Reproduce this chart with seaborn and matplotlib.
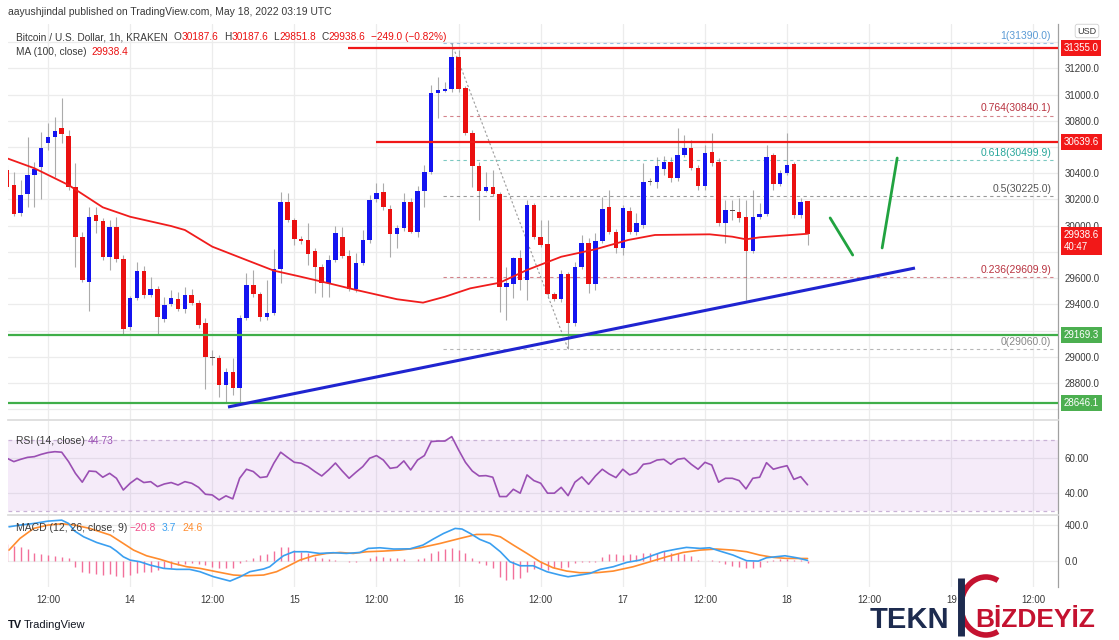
import numpy as np
import pandas as pd
import matplotlib
matplotlib.use("Agg")
import matplotlib.pyplot as plt
from matplotlib.patches import Arc
import seaborn as sns

# ---------------- data ----------------
first_candle = "2022-05-13 06:00"
day_zero = "2022-05-13 00:00"

opens = [30425, 30310, 30094, 30239, 30386, 30450, 30633, 30679, 30743, 30686,
         30293, 29911, 29573, 30081, 30036, 29759, 29988, 29746, 29230, 29446,
         29657, 29471, 29517, 29286, 29401, 29441, 29364, 29471, 29408, 29260,
         28993, 28993, 28785, 28886, 28764, 29294, 29548, 29479, 29301, 29337,
         29667, 30183, 30043, 29898, 29891, 29807, 29683, 29565, 29738, 29916,
         29771, 29517, 29718, 29891, 30204, 30257, 30127, 29934, 29980, 30178,
         29954, 30267, 30412, 31009, 31030, 31043, 31289, 31048, 30709, 30455,
         30267, 30297, 30242, 29530, 29555, 29756, 29586, 30155, 29916, 29860,
         29477, 29441, 29629, 29260, 29687, 29870, 29555, 29885, 30140, 29954,
         29828, 30114, 29954, 30005, 30335, 30335, 30430, 30488, 30361, 30539,
         30595, 30442, 30303, 30564, 30488, 30018, 30120, 30107, 30064, 29809,
         30064, 30089, 30539, 30318, 30404, 30470, 30081, 30187.6]
closes = [30297, 30087, 30234, 30386, 30432, 30595, 30674, 30724, 30697, 30293,
          29911, 29586, 30068, 30038, 29759, 29988, 29746, 29210, 29446, 29657,
          29471, 29517, 29306, 29395, 29446, 29364, 29471, 29408, 29243, 28996,
          28988, 28785, 28886, 28764, 29294, 29548, 29479, 29301, 29337, 29667,
          30178, 30043, 29896, 29885, 29784, 29683, 29565, 29738, 29942, 29771,
          29517, 29718, 29891, 30196, 30252, 30140, 29934, 29980, 30178, 29954,
          30267, 30412, 31009, 31035, 31043, 31289, 31043, 30709, 30455, 30267,
          30297, 30242, 29535, 29561, 29756, 29586, 30155, 29916, 29853, 29477,
          29441, 29629, 29260, 29687, 29870, 29555, 29885, 30125, 29954, 29828,
          30133, 29954, 30018, 30335, 30340, 30457, 30488, 30361, 30539, 30595,
          30442, 30303, 30552, 30476, 30018, 30120, 30114, 30056, 29809, 30064,
          30089, 30526, 30318, 30404, 30463, 30081, 30183, 29938.6]
highs = [30463, 30412, 30348, 30679, 30488, 30717, 30781, 30831, 30974, 30730,
         30476, 29952, 30145, 30145, 30058, 30043, 30068, 29776, 29464, 29725,
         29692, 29611, 29540, 29456, 29510, 29497, 29535, 29517, 29433, 29296,
         29052, 29014, 28915, 28989, 29319, 29637, 29662, 29494, 29586, 29820,
         30259, 30249, 30058, 29921, 30020, 29830, 29708, 29776, 29998, 29992,
         29815, 29792, 29967, 30234, 30328, 30328, 30158, 30005, 30249, 30211,
         30303, 30463, 31073, 31136, 31098, 31390, 31340, 31065, 30730, 30486,
         30412, 30425, 30257, 29687, 29763, 29815, 30196, 30173, 30043, 30043,
         29494, 29662, 29647, 29723, 29929, 29906, 29942, 30221, 30272, 29975,
         30158, 30143, 30097, 30476, 30364, 30524, 30532, 30524, 30743, 30692,
         30653, 30463, 30615, 30704, 30516, 30196, 30196, 30211, 30196, 30272,
         30173, 30615, 30557, 30425, 30707, 30486, 30211, 30187.6]
lows = [30272, 30074, 30074, 30140, 30145, 30201, 30577, 30374, 30631, 30272,
        29687, 29571, 29352, 29944, 29738, 29662, 29723, 29166, 29205, 29433,
        29448, 29456, 29166, 29266, 29388, 29349, 29334, 29395, 29220, 28752,
        28938, 28696, 28646, 28709, 28646, 29281, 29456, 29275, 29281, 29319,
        29563, 30028, 29853, 29860, 29700, 29484, 29458, 29458, 29723, 29754,
        29502, 29494, 29700, 29868, 30181, 30120, 29763, 29827, 29959, 29942,
        29916, 30145, 30394, 30819, 31020, 31020, 31020, 30692, 30297, 30043,
        30257, 30226, 29344, 29281, 29446, 29510, 29433, 29898, 29837, 29456,
        29426, 29418, 29060, 29235, 29670, 29484, 29510, 29868, 29937, 29789,
        29776, 29937, 29929, 29982, 30310, 30287, 30386, 30333, 30341, 30524,
        30425, 30272, 30272, 30455, 29998, 29866, 30043, 30028, 29433, 29792,
        30051, 30074, 30272, 30303, 30386, 30058, 30058, 29851.8]

# MA(100) read at hours since 13 May 00:00
ma_hours = [6, 10, 15, 20, 24, 30, 32, 36, 41, 45, 48.5, 53, 57, 63, 66.8, 70,
            73.7, 78, 82, 87, 92, 96.8, 100.7, 108.7, 112, 114, 116, 123]
ma_values = [30514, 30438, 30310, 30140, 30068, 29997, 29967, 29840, 29738,
             29657, 29616, 29561, 29510, 29439, 29413, 29458, 29522, 29565,
             29662, 29763, 29820, 29891, 29929, 29934, 29916, 29896, 29911, 29938.4]

# RSI(14), one value per candle
rsi_values = [59.7, 57.8, 59.1, 60.2, 60.6, 61.9, 62.9, 63.4, 63.1, 57.8,
              51.2, 46.2, 52.5, 52.2, 49.0, 51.2, 48.4, 41.8, 45.6, 48.4,
              46.0, 46.5, 43.7, 45.2, 46.0, 44.6, 46.5, 45.6, 43.3, 39.4,
              39.0, 36.2, 38.5, 36.8, 48.4, 53.5, 52.2, 48.8, 49.3, 56.9,
              63.1, 60.2, 57.4, 56.9, 55.0, 52.2, 49.7, 53.1, 57.0, 52.5,
              48.4, 51.8, 55.0, 59.7, 61.2, 58.7, 54.0, 54.6, 58.2, 53.1,
              58.7, 61.2, 69.1, 69.4, 69.4, 71.9, 64.4, 57.4, 52.5, 49.7,
              49.9, 49.0, 38.1, 38.1, 42.2, 40.0, 50.3, 47.1, 45.6, 40.0,
              40.0, 43.3, 38.6, 46.2, 49.2, 45.0, 49.7, 53.5, 50.8, 48.8,
              53.5, 50.3, 51.6, 56.3, 56.9, 58.7, 59.1, 56.3, 59.1, 59.7,
              56.3, 53.5, 57.4, 55.9, 46.2, 48.4, 48.4, 47.1, 42.4, 48.4,
              49.0, 57.2, 53.5, 54.6, 55.5, 47.8, 49.3, 44.73]

# MACD (12, 26, 9)
macd_hours = [6.3, 7.9, 9.9, 12, 14, 15, 15.9, 17.2, 19.1, 21.1,
              22, 23, 24, 25.4, 26.9, 28.9, 30.8, 32.7, 34.2, 36.2,
              38.6, 40.1, 41.5, 43.5, 44.4, 45.4, 46.4, 47.9, 49.8, 51.7,
              53.7, 55.6, 57.6, 58.8, 60.5, 62.5, 64.9, 66.8, 68.3, 69.8,
              71.5, 72.5, 73.7, 75.1, 76.6, 78.1, 79.5, 81, 82.9, 84.9,
              86.8, 88, 89.7, 91.2, 92.7, 94.6, 96.6, 98.5, 100.5, 101.9,
              103.9, 105.3, 107.3, 108.7, 110.2, 112.1, 114.1, 115.8, 117, 119.7,
              121.4, 123]
macd_values = [377, 396, 414, 440, 451, 414, 329, 266, 203, 155,
               107, 44, 7, -11, -48, -85, -96, -96, -122, -178,
               -226, -178, -122, -92, -67, -4, 55, 100, 100, 81,
               89, 81, 92, 137, 144, 130, 132, 174, 241, 303,
               359, 352, 303, 237, 192, 100, -11, -56, -56, -122,
               -159, -178, -159, -141, -96, -67, -18, 7, 63, 100,
               130, 148, 137, 144, 107, 63, 0, -4, 33, 55,
               33, 3.7]
signal_hours = [6.3, 7.9, 9.9, 12, 14, 15.9, 18.1, 21.1, 23, 24.5,
                26.4, 28.4, 30.3, 32.3, 34.2, 36.6, 39.1, 41, 43.5, 45.4,
                46.9, 48.8, 50.8, 52.7, 54.7, 56.6, 58.6, 61, 63.4, 66.4,
                69.3, 72.2, 74.6, 76.6, 78.1, 80, 82, 83.9, 85.8, 87.8,
                89.7, 92.2, 94.6, 97.5, 100, 102.4, 104.8, 107.3, 109.7, 112.1,
                114.1, 116, 118, 119.9, 123]
signal_values = [118, 248, 359, 396, 411, 396, 359, 285, 192, 118,
                 55, 15, -30, -67, -85, -122, -159, -167, -159, -122,
                 -67, 7, 55, 81, 92, 81, 100, 107, 118, 144,
                 192, 248, 292, 292, 266, 174, 81, -11, -78, -115,
                 -133, -133, -115, -67, -11, 44, 92, 118, 130, 118,
                 100, 63, 37, 26, 24.6]
hist_values = [185, 167, 148, 126, 89, 70, 63, 56, 44, 26,
               -67, -122, -141, -152, -159, -152, -167, -178, -159, -141,
               -122, -122, -104, -85, -85, -48, -41, -30, -41, -48,
               -67, -78, -78, -78, -30, 7, 33, 63, 70, 107,
               155, 155, 118, 100, 81, 44, 26, 18, 7, 0,
               -11, -11, 0, 33, 52, 44, 26, 26, 18, 0,
               15, 26, 81, 107, 130, 144, 118, 81, 26, -30,
               -48, -78, -178, -215, -204, -196, -122, -96, -85, -104,
               -85, -85, -67, -30, -11, -11, -11, 44, 70, 70,
               63, 70, 63, 81, 89, 89, 107, 89, 89, 70,
               55, 7, 0, 7, -11, -41, -56, -67, -85, -78,
               -67, -11, 7, 18, 15, 7, 7, -20.8]

# drawn levels
resistance_levels = [31355.0, 30639.6]
resistance_start = [55.8, 59.9]
support_levels = [29169.3, 28646.1]
fib_ratios = ["1", "0.764", "0.618", "0.5", "0.236", "0"]
fib_prices = [31390.0, 30840.1, 30499.9, 30225.0, 29609.9, 29060.0]
fib_colors = ["#5b9bd5", "#b8323f", "#26a69a", "#555555", "#b8323f", "#888888"]
fib_start = 69.7
swing_hours = [71, 88]
swing_prices = [31390.0, 29060.0]
trend_hours = [38.3, 138.7]
trend_prices = [28617, 29677]
down_leg_hours = [126.3, 129.6]
down_leg_prices = [30059, 29776]
up_leg_hours = [133.9, 136.1]
up_leg_prices = [29830, 30516]

tick_hours = [12, 24, 36, 48, 60, 72, 84, 96, 108, 120, 132, 144, 156]
tick_labels = ["12:00", "14", "12:00", "15", "12:00", "16", "12:00", "17",
               "12:00", "18", "12:00", "19", "12:00"]
price_ticks = list(range(28600, 31401, 200))
hidden_price_labels = [31400, 30600, 29800, 29200, 28600]  # under the price tags

# ---------------- figure ----------------
sns.set_theme(style="white")
plt.rcParams["font.family"] = ["Liberation Sans", "DejaVu Sans"]

W, H = 1119, 640
fig = plt.figure(figsize=(W / 100, H / 100), dpi=100)
fig.patch.set_facecolor("white")


def px_rect(x0, y0, x1, y1):
    return [x0 / W, 1 - y1 / H, (x1 - x0) / W, (y1 - y0) / H]


ax = fig.add_axes(px_rect(8, 24, 1058, 420))
ax_rsi = fig.add_axes(px_rect(8, 421, 1058, 515))
ax_macd = fig.add_axes(px_rect(8, 516, 1058, 587))

times = pd.date_range(first_candle, periods=len(opens), freq="h")
x = ((times - pd.Timestamp(day_zero)) / pd.Timedelta(hours=1)).to_numpy()
df = pd.DataFrame({"x": x, "open": opens, "high": highs, "low": lows,
                   "close": closes, "rsi": rsi_values, "histogram": hist_values})

UP, DOWN, DOJI = "#1414f0", "#ea1010", "#5a4a48"
GRID = "#ececec"
TXT = "#3a3a3a"

for a in (ax, ax_rsi, ax_macd):
    a.set_xlim(6.15, 159.6)
    a.set_xticks(tick_hours)
    a.grid(True, color=GRID, lw=0.9)
    a.set_axisbelow(True)
    for s in ("left", "top"):
        a.spines[s].set_visible(False)
    a.spines["right"].set_color("#a0a0a0")
    a.spines["right"].set_linewidth(0.9)
    a.spines["bottom"].set_color("#dcdcdc")
    a.yaxis.tick_right()
    a.tick_params(axis="both", length=0, labelsize=7, labelcolor=TXT)
    a.tick_params(axis="y", pad=5)
ax.tick_params(labelbottom=False)
ax_rsi.tick_params(labelbottom=False)
ax_macd.set_xticklabels(tick_labels)
ax_macd.tick_params(axis="x", pad=6)
ax_macd.spines["bottom"].set_visible(False)

# ---- main price panel ----
ax.set_ylim(28518, 31538)
ax.set_yticks(price_ticks)
ax.set_yticklabels(["" if v in hidden_price_labels else f"{v:.1f}" for v in price_ticks])

colors = np.where(np.abs(df["close"] - df["open"]) < 8, DOJI,
                  np.where(df["close"] >= df["open"], UP, DOWN))
ax.vlines(df["x"], df["low"], df["high"], color="#ababab", lw=0.8, zorder=2)
body_low = np.minimum(df["open"], df["close"])
body_h = np.maximum(np.abs(df["close"] - df["open"]), 7)
ax.bar(df["x"], body_h, bottom=body_low, width=0.66, color=colors, lw=0, zorder=3)

sns.lineplot(x=ma_hours, y=ma_values, ax=ax, color="#f01c1c", lw=1.3, zorder=4)

# support / resistance
for lvl, start in zip(resistance_levels, resistance_start):
    ax.hlines(lvl, start, 159.6, color="#f01818", lw=1.6, zorder=5)
for lvl in support_levels:
    ax.axhline(lvl, color="#3fae49", lw=1.6, zorder=5)

# fibonacci retracement
for r, p, c in zip(fib_ratios, fib_prices, fib_colors):
    ax.hlines(p, fib_start, 159.0, color=c, lw=0.8, ls=(0, (3, 3)), alpha=0.6, zorder=2)
    ax.annotate(f"{r}({p:.1f})", xy=(158.6, p), xytext=(0, 1.5),
                textcoords="offset points", ha="right", va="bottom",
                fontsize=7.5, color=c, zorder=6)
ax.plot(swing_hours, swing_prices, color="#9a9a9a", lw=0.8, ls=(0, (2, 2)), zorder=2)

# trend line and projection legs
ax.plot(trend_hours, trend_prices, color="#1f24d0", lw=2.2, zorder=6,
        solid_capstyle="butt")
ax.plot(down_leg_hours, down_leg_prices, color="#21a340", lw=2.0, zorder=6)
ax.plot(up_leg_hours, up_leg_prices, color="#21a340", lw=2.0, zorder=6)


def price_tag(a, value, text, color, dy=0):
    a.annotate(text, xy=(1, value), xycoords=("axes fraction", "data"),
               xytext=(4, dy), textcoords="offset points", ha="left",
               va="center", fontsize=7, color="white", linespacing=1.25,
               bbox=dict(boxstyle="square,pad=0.3", fc=color, ec="none"),
               annotation_clip=False, zorder=20)


for lvl in resistance_levels:
    price_tag(ax, lvl, f"{lvl:.1f}", "#f21818")
for lvl in support_levels:
    price_tag(ax, lvl, f"{lvl:.1f}", "#4caf50")
price_tag(ax, closes[-1], f"{closes[-1]:.1f}\n40:47", "#f21818", dy=-5)

# ---- RSI panel ----
ax_rsi.set_ylim(27.7, 80.7)
ax_rsi.set_yticks([40, 60])
ax_rsi.set_yticklabels(["40.00", "60.00"])
ax_rsi.axhspan(30, 70, color="#b36ad8", alpha=0.13, lw=0, zorder=1)
for lvl in (30, 70):
    ax_rsi.axhline(lvl, color="#c9b3d6", lw=0.9, ls=(0, (3, 3)), zorder=1)
sns.lineplot(data=df, x="x", y="rsi", ax=ax_rsi, color="#9a4fb3", lw=1.2, zorder=4)

# ---- MACD panel ----
ax_macd.set_ylim(-292, 497)
ax_macd.set_yticks([0, 400])
ax_macd.set_yticklabels(["0.0", "400.0"])
ax_macd.vlines(df["x"], 0, df["histogram"], color="#f2709a", lw=1.0, zorder=2)
sns.lineplot(x=signal_hours, y=signal_values, ax=ax_macd, color="#ff8c2e", lw=1.2, zorder=4)
sns.lineplot(x=macd_hours, y=macd_values, ax=ax_macd, color="#3a9ff0", lw=1.2, zorder=5)

for a in (ax, ax_rsi, ax_macd):
    a.set_xlabel("")
    a.set_ylabel("")

# ---------------- overlay texts ----------------
ov = fig.add_axes([0, 0, 1, 1], zorder=10)
ov.set_xlim(0, W)
ov.set_ylim(H, 0)
ov.axis("off")

ov.text(8, 12, "aayushjindal published on TradingView.com, May 18, 2022 03:19 UTC",
        fontsize=7.5, color=TXT, va="center")
ov.text(16, 37, "Bitcoin / U.S. Dollar, 1h, KRAKEN", fontsize=7.3, color=TXT, va="center")
header_parts = [("O", 174, TXT), ("30187.6", 182, DOWN), ("H", 224, TXT),
                ("30187.6", 232, DOWN), ("L", 273, TXT), ("29851.8", 279, DOWN),
                ("C", 321, TXT), ("29938.6", 328, DOWN),
                ("\u2212249.0 (\u22120.82%)", 371, DOWN)]
for txt, px, col in header_parts:
    ov.text(px, 37, txt, fontsize=7.3, color=col, va="center")
ov.text(16, 52, "MA (100, close)", fontsize=7.3, color=TXT, va="center")
ov.text(91, 52, "29938.4", fontsize=7.3, color=DOWN, va="center")

ov.text(16, 441, "RSI (14, close)", fontsize=7.5, color=TXT, va="center")
ov.text(88, 441, "44.73", fontsize=7.5, color="#9a4fb3", va="center")
ov.text(16, 528, "MACD (12, 26, close, 9)", fontsize=7.5, color=TXT, va="center")
ov.text(129, 528, "\u221220.8", fontsize=7.5, color="#f0508a", va="center")
ov.text(162, 528, "3.7", fontsize=7.5, color="#3a9ff0", va="center")
ov.text(182, 528, "24.6", fontsize=7.5, color="#ff8c2e", va="center")

ov.text(1087, 31, "USD", fontsize=6.5, color=TXT, ha="center", va="center",
        bbox=dict(boxstyle="round,pad=0.25", fc="white", ec="#d0d0d0", lw=0.6))

# footer
ov.text(8, 625, "TV", fontsize=8, fontweight="bold", color="#131722", va="center")
ov.text(24, 625, "TradingView", fontsize=8, color="#131722", va="center")

# watermark
navy, crimson = "#1d2b4f", "#c41230"
ov.text(870, 620, "TEKN", fontsize=21, fontweight="bold", color=navy, va="center")
ov.text(975, 620, "B\u0130ZDEY\u0130Z", fontsize=19, fontweight="bold", color=crimson,
        va="center")
ov.plot([961, 961], [578, 636], color=navy, lw=5, solid_capstyle="butt")
ov.add_patch(Arc((986, 606), 50, 58, theta1=65, theta2=295, color=crimson, lw=4))

fig.savefig("out.png", dpi=100, facecolor="white")
